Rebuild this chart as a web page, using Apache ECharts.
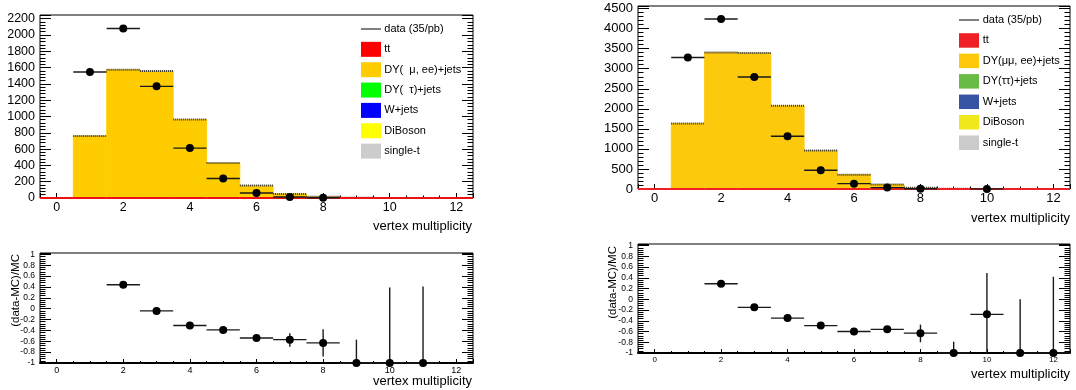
<!DOCTYPE html>
<html><head><meta charset="utf-8">
<script src="https://cdn.jsdelivr.net/npm/echarts@6/dist/echarts.min.js"></script>
<style>html,body{margin:0;padding:0;background:#fff;}#c{width:1076px;height:390px;}</style>
</head><body><div id="c"></div>
<script>
// ---------------- data ----------------
const bins = [0,1,2,3,4,5,6,7,8,9,10,11,12];
// left plot
const mcLeft   = [0,760,1572,1558,962,428,152,50,15,2,0,0,0];
const ttLeft   = [0,0,0,0,0,0,0,0,0,0,0,0,0];
const dataXLeft = [1,2,3,4,5,6,7,8];
const dataLeft  = [1545,2080,1370,612,240,62,12,3];
const ratioXLeft  = [2,3,4,5,6,7,8,9,10,11];
const ratioLeft   = [0.44,-0.04,-0.31,-0.39,-0.54,-0.57,-0.63,-1,-1,-1];
const ratioLoLeft = [0.42,-0.06,-0.33,-0.41,-0.56,-0.70,-0.88,-1,-1,-1];
const ratioHiLeft = [0.46,-0.02,-0.29,-0.37,-0.52,-0.45,-0.38,-0.57,0.39,0.41];
// right plot
const mcRight   = [0,1632,3405,3390,2075,960,358,112,30,5,2,0,0];
const ttRight   = [0,0,0,0,0,0,0,0,0,0,0,0,0];
const dataXRight = [1,2,3,4,5,6,7,8,10];
const dataRight  = [3282,4240,2795,1315,467,133,35,6,3];
const ratioXRight  = [2,3,4,5,6,7,8,9,10,11,12];
const ratioRight   = [0.29,-0.15,-0.35,-0.49,-0.60,-0.56,-0.63,-1,-0.28,-1,-1];
const ratioLoRight = [0.27,-0.17,-0.37,-0.51,-0.62,-0.62,-0.80,-1,-1,-1,-1];
const ratioHiRight = [0.31,-0.13,-0.33,-0.47,-0.58,-0.50,-0.47,-0.79,0.49,0.00,0.42];
// legends
const legendLeft  = ['data (35/pb)','tt','DY(  \u03bc, ee)+jets','DY(  \u03c4)+jets','W+jets','DiBoson','single-t'];
const legendRight = ['data (35/pb)','tt','DY(\u03bc\u03bc, ee)+jets','DY(\u03c4\u03c4)+jets','W+jets','DiBoson','single-t'];
const colorsLeft  = [null,'#ff0000','#ffcc00','#00ff00','#0000ff','#ffff00','#cccccc'];
const colorsRight = [null,'#ee1f25','#fdc90a','#6abb45','#3953a4','#efe91c','#cbcbcb'];
const xTitle = 'vertex multiplicity';
const ratioTitle = '(data-MC)/MC';

// ---------------- helpers ----------------
const FF = "'Liberation Sans', Arial, Helvetica, sans-serif";
function histItem(color){
  return function(params, api){
    const x = api.value(0), v = api.value(1);
    if (!(v > 0)) return null;
    const p0 = api.coord([x-0.5, 0]), p1 = api.coord([x+0.5, v]);
    return {type:'group', children:[
      {type:'rect', shape:{x:p0[0], y:p1[1], width:p1[0]-p0[0], height:p0[1]-p1[1]}, style:{fill:color, stroke:color, lineWidth:0.8}},
      {type:'line', shape:{x1:p0[0], y1:p1[1], x2:p1[0], y2:p1[1]}, style:{stroke:'#333', lineWidth:2, lineDash:[1,1]}}
    ]};
  };
}
function lineItem(color, w){
  return function(params, api){
    const x = api.value(0), v = api.value(1);
    const a = api.coord([x-0.5, v]), b = api.coord([x+0.5, v]);
    return {type:'line', shape:{x1:a[0], y1:a[1], x2:b[0], y2:b[1]}, style:{stroke:color, lineWidth:w}};
  };
}
function pointItem(r){
  return function(params, api){
    const x = api.value(0), y = api.value(1), lo = api.value(2), hi = api.value(3);
    const pl = api.coord([x-0.5, y]), pr = api.coord([x+0.5, y]), pc = api.coord([x, y]);
    const plo = api.coord([x, lo]), phi = api.coord([x, hi]);
    return {type:'group', children:[
      {type:'line', shape:{x1:pl[0], y1:pl[1], x2:pr[0], y2:pr[1]}, style:{stroke:'#1a1a1a', lineWidth:1.4}},
      {type:'line', shape:{x1:pc[0], y1:plo[1], x2:pc[0], y2:phi[1]}, style:{stroke:'#1a1a1a', lineWidth:1.4}},
      {type:'circle', shape:{cx:pc[0], cy:pc[1], r:r}, style:{fill:'#000'}}
    ]};
  };
}
function pairs(xs, ys){ return xs.map((x,i)=>[x, ys[i]]); }
function quads(xs, ys, lo, hi){ return xs.map((x,i)=>[x, ys[i], lo ? lo[i] : ys[i], hi ? hi[i] : ys[i]]); }

function xAx(g, fs, tl, lineW){
  return {type:'value', gridIndex:g, min:-0.5, max:12.5, splitNumber:6, minInterval:2, maxInterval:2,
    axisLine:{show: !!lineW, onZero:false, lineStyle:{color:'#000', width:lineW||1}},
    axisTick:{show:true, inside:true, length:tl, lineStyle:{color:'#000'}},
    minorTick:{show:true, splitNumber:4, length:tl/2, lineStyle:{color:'#000'}},
    splitLine:{show:false}, minorSplitLine:{show:false},
    axisLabel:{fontSize:fs, color:'#000', fontFamily:FF, margin:3,
      formatter:v => (Math.abs(v/2 - Math.round(v/2)) < 1e-6 ? String(Math.round(v)) : '')}};
}
function yAx(g, min, max, step, fs, tl, right, fmt){
  return {type:'value', gridIndex:g, min:min, max:max, interval:step, position: right ? 'right' : 'left',
    axisLine:{show:false, onZero:false},
    axisTick:{show:true, inside:true, length:tl, lineStyle:{color:'#000'}},
    minorTick:{show:true, splitNumber:5, length:tl/2, lineStyle:{color:'#000'}},
    splitLine:{show:false}, minorSplitLine:{show:false},
    axisLabel:{show:!right, fontSize:fs, color:'#000', fontFamily:FF, margin:5,
      formatter:v => (Math.abs(v/step - Math.round(v/step)) < 1e-6 ? fmt(Math.round(v/step)*step) : '')}};
}
const intFmt = v => String(Math.round(v));
const decFmt = v => { const r = Math.round(v*10)/10; return r === 0 ? '0' : String(r); };

const grids = [
  {left:40, top:15, width:433, height:183},
  {left:40, top:253, width:433, height:110},
  {left:638, top:6, width:432, height:183},
  {left:638, top:244, width:432, height:109}
].map(g => Object.assign(g, {show:true, borderColor:'#000', borderWidth:1, backgroundColor:'#fff', containLabel:false, outerBoundsMode:'none'}));

const xAxes = [xAx(0,12.5,5,0), xAx(1,9,4,2), xAx(2,13,5,0), xAx(3,8,4,2)];
const yAxes = [
  yAx(0,0,2245,200,12.5,11,false,intFmt), yAx(0,0,2245,200,12.5,11,true,intFmt),
  yAx(1,-1,1.026,0.2,8.5,11,false,decFmt), yAx(1,-1,1.026,0.2,8.5,11,true,decFmt),
  yAx(2,0,4565,500,13,11,false,intFmt), yAx(2,0,4565,500,13,11,true,intFmt),
  yAx(3,-1,1.03,0.2,8.5,11,false,decFmt), yAx(3,-1,1.03,0.2,8.5,11,true,decFmt)
];
function cs(xi, yi, data, fn, z){
  return {type:'custom', xAxisIndex:xi, yAxisIndex:yi, data:data, renderItem:fn, encode:{x:0, y:1}, z:z, silent:true, animation:false, clip:false};
}
const series = [
  cs(0,0,pairs(bins,mcLeft),histItem('#ffcc00'),2),
  cs(0,0,pairs(bins,ttLeft),lineItem('#ee1111',2.2),3),
  cs(0,0,quads(dataXLeft,dataLeft),pointItem(4),4),
  cs(1,2,quads(ratioXLeft,ratioLeft,ratioLoLeft,ratioHiLeft),pointItem(4),4),
  cs(2,4,pairs(bins,mcRight),histItem('#fcc90c'),2),
  cs(2,4,pairs(bins,ttRight),lineItem('#ee1f25',2.2),3),
  cs(2,4,quads(dataXRight,dataRight),pointItem(4),4),
  cs(3,6,quads(ratioXRight,ratioRight,ratioLoRight,ratioHiRight),pointItem(4),4)
];

// ---------------- legends & titles (graphic) ----------------
const graphic = [];
function txt(x, y, s, fs, align, rot){
  const o = {type:'text', x:x, y:y, z:100, silent:true,
    style:{text:s, font: fs + 'px ' + FF, fill:'#000', textAlign:align||'left', textVerticalAlign:'middle', verticalAlign:'middle'}};
  if (rot) o.rotation = rot;
  return o;
}
function legend(labels, colors, x0, y0, dy, bh, tx){
  labels.forEach((lab, i) => {
    const y = y0 + i*dy;
    if (!colors[i]) {
      graphic.push({type:'line', z:100, silent:true, shape:{x1:x0, y1:y, x2:x0+20, y2:y}, style:{stroke:'#000', lineWidth:1}});
    } else {
      graphic.push({type:'rect', z:100, silent:true, shape:{x:x0, y:y-bh/2, width:20, height:bh}, style:{fill:colors[i]}});
    }
    graphic.push(txt(tx, y, lab, 11, 'left'));
  });
}
legend(legendLeft, colorsLeft, 361, 29, 20.35, 15, 384.3);
legend(legendRight, colorsRight, 959, 20, 20.45, 14.5, 982.7);
graphic.push(txt(472, 226, xTitle, 13, 'right'));
graphic.push(txt(472, 381, xTitle, 13, 'right'));
graphic.push(txt(1070, 218, xTitle, 13, 'right'));
graphic.push(txt(1070, 374, xTitle, 13, 'right'));
graphic.push(txt(16, 254, ratioTitle, 11.5, 'right', Math.PI/2));
graphic.push(txt(612.5, 246, ratioTitle, 11.5, 'right', Math.PI/2));

const chart = echarts.init(document.getElementById('c'), null, {renderer:'canvas'});
chart.setOption({animation:false, backgroundColor:'#fff', grid:grids, xAxis:xAxes, yAxis:yAxes, series:series, graphic:graphic});
</script></body></html>
